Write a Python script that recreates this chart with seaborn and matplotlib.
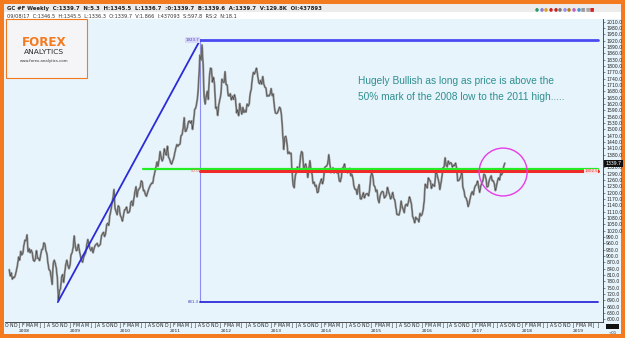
import numpy as np
import pandas as pd
import matplotlib
matplotlib.use("Agg")
import matplotlib.pyplot as plt
from matplotlib.patches import Rectangle, Ellipse
from matplotlib.transforms import blended_transform_factory
import seaborn as sns

# ---------------- data: weekly closes (4 per month) ----------------
gold_2007 = [835, 805, 820, 790, 800, 798, 812, 834]  # Nov-Dec
gold_2008 = [860, 895, 880, 922, 905, 912, 950, 975, 972, 1000, 920, 935,
             915, 928, 915, 880, 875, 885, 925, 890, 888, 878, 905, 930,
             932, 962, 958, 925, 910, 865, 835, 830, 800, 765, 865, 880,
             865, 840, 790, 690, 735, 745, 800, 812, 775, 822, 860, 880]
gold_2009 = [855, 840, 855, 905, 915, 940, 995, 950, 925, 928, 955, 925,
             900, 880, 870, 893, 905, 915, 953, 978, 960, 935, 925, 940,
             915, 935, 950, 955, 960, 945, 950, 955, 995, 1005, 1012, 992,
             1005, 1048, 1055, 1045, 1090, 1115, 1145, 1175, 1215, 1125, 1110, 1095]
gold_2010 = [1138, 1130, 1092, 1083, 1065, 1090, 1118, 1120, 1132, 1104, 1105, 1112,
             1152, 1160, 1138, 1170, 1205, 1228, 1180, 1210, 1218, 1226, 1256, 1250,
             1210, 1210, 1190, 1183, 1200, 1215, 1228, 1238, 1245, 1245, 1275, 1297,
             1320, 1345, 1325, 1355, 1395, 1368, 1350, 1362, 1408, 1385, 1378, 1420]
gold_2011 = [1369, 1360, 1342, 1335, 1350, 1363, 1388, 1410, 1428, 1420, 1427, 1430,
             1470, 1475, 1505, 1555, 1490, 1493, 1510, 1536, 1540, 1530, 1540, 1500,
             1542, 1594, 1601, 1625, 1663, 1744, 1852, 1828, 1900, 1815, 1655, 1620,
             1656, 1680, 1642, 1745, 1790, 1788, 1724, 1746, 1710, 1600, 1605, 1566]
gold_2012 = [1616, 1640, 1665, 1738, 1725, 1722, 1773, 1712, 1710, 1660, 1658, 1669,
             1640, 1657, 1642, 1664, 1643, 1578, 1592, 1565, 1622, 1595, 1572, 1604,
             1580, 1590, 1582, 1620, 1610, 1620, 1670, 1690, 1740, 1770, 1762, 1775,
             1790, 1760, 1724, 1716, 1732, 1714, 1750, 1715, 1700, 1696, 1657, 1660]
gold_2013 = [1658, 1668, 1693, 1660, 1668, 1610, 1578, 1575, 1578, 1592, 1605, 1597,
             1560, 1480, 1405, 1462, 1467, 1438, 1385, 1393, 1384, 1387, 1295, 1234,
             1223, 1280, 1295, 1322, 1311, 1315, 1372, 1395, 1387, 1308, 1326, 1336,
             1310, 1272, 1315, 1351, 1310, 1288, 1244, 1250, 1230, 1235, 1200, 1204]
gold_2014 = [1237, 1250, 1265, 1242, 1262, 1318, 1324, 1326, 1338, 1380, 1336, 1295,
             1303, 1318, 1294, 1300, 1302, 1293, 1294, 1256, 1252, 1274, 1316, 1321,
             1336, 1307, 1310, 1294, 1305, 1315, 1280, 1287, 1268, 1231, 1216, 1216,
             1192, 1222, 1238, 1172, 1169, 1185, 1200, 1175, 1190, 1195, 1195, 1185]
gold_2015 = [1216, 1277, 1293, 1280, 1235, 1228, 1205, 1212, 1167, 1152, 1185, 1199,
             1206, 1203, 1175, 1180, 1190, 1225, 1205, 1190, 1170, 1180, 1201, 1173,
             1165, 1132, 1097, 1095, 1094, 1114, 1160, 1134, 1121, 1105, 1140, 1145,
             1137, 1156, 1180, 1165, 1142, 1088, 1076, 1057, 1084, 1074, 1076, 1061]
gold_2016 = [1102, 1090, 1096, 1117, 1158, 1240, 1230, 1222, 1270, 1260, 1255, 1220,
             1240, 1234, 1230, 1292, 1292, 1273, 1252, 1215, 1243, 1276, 1318, 1322,
             1365, 1330, 1322, 1350, 1335, 1342, 1340, 1321, 1330, 1328, 1340, 1316,
             1256, 1257, 1265, 1276, 1305, 1225, 1210, 1180, 1175, 1160, 1134, 1150]
gold_2017 = [1175, 1196, 1205, 1190, 1221, 1234, 1238, 1255, 1227, 1201, 1230, 1245,
             1255, 1287, 1284, 1267, 1227, 1230, 1256, 1270, 1280, 1256, 1256, 1242,
             1210, 1230, 1255, 1270, 1260, 1290, 1285, 1297, 1325, 1339.7]

# swing points used by the Fibonacci tool
swing_low_t, swing_low = 2008.81, 681.3
swing_high_t, swing_high = 2011.64, 1923.7
fib_mid = (swing_low + swing_high) / 2
green_level = 1312.0
tool_end_t = 2019.55
green_start_t = 2010.50
last_price = 1339.7

years = list(range(2008, 2020))
month_letters = list("JFMAMJJASOND")
ytick_vals = list(range(600, 2011, 30))

title1 = "GC #F Weekly  C:1339.7  N:5.3  H:1345.5  L:1336.7  :0:1339.7  B:1339.6  A:1339.7  V:129.8K  OI:437893"
title2 = "09/08/17  C:1346.5  H:1345.5  L:1336.3  O:1339.7  V:1.866  I:437093  S:597.8  RS:2  N:18.1"
note_lines = ["Hugely Bullish as long as price is above the",
              "50% mark of the 2008 low to the 2011 high....."]

# ---------------- build frame ----------------
rows = []
for yr, lst, start in [(2007, gold_2007, 40), (2008, gold_2008, 0), (2009, gold_2009, 0),
                       (2010, gold_2010, 0), (2011, gold_2011, 0), (2012, gold_2012, 0),
                       (2013, gold_2013, 0), (2014, gold_2014, 0), (2015, gold_2015, 0),
                       (2016, gold_2016, 0), (2017, gold_2017, 0)]:
    for i, v in enumerate(lst):
        rows.append((yr + (start + i + 0.5) / 48.0, v))
df = pd.DataFrame(rows, columns=["t", "price"])

# ---------------- figure ----------------
sns.set_style("white")
plt.rcParams['font.family'] = ['DejaVu Sans']
W, H = 625, 338
fig = plt.figure(figsize=(W / 100, H / 100), dpi=100)
ORANGE = '#f47a1f'
fig.patch.set_facecolor(ORANGE)

def fx(x):
    return x / W

def fy(y):
    return 1 - y / H

BG = '#e7f4fc'
# inner panel
fig.add_artist(Rectangle((fx(4), fy(334)), fx(617), 330 / H, transform=fig.transFigure,
                         facecolor=BG, edgecolor='none', zorder=0))
fig.add_artist(Rectangle((fx(4), fy(12)), fx(617), 8 / H, transform=fig.transFigure,
                         facecolor='#ececec', edgecolor='none', zorder=0))
fig.add_artist(Rectangle((fx(4), fy(19)), fx(617), 7 / H, transform=fig.transFigure,
                         facecolor='white', edgecolor='none', zorder=0))
fig.text(fx(7), fy(8.3), title1, fontsize=3.9, fontweight='bold', color='#222222', va='center')
fig.text(fx(7), fy(15.5), title2, fontsize=3.6, color='#333333', va='center')
# toolbar icons
icon_cols = ['#2a9a6a', '#8a7ad8', '#e0a020', '#cc2020', '#cc2020', '#777777',
             '#9a8ae0', '#b08020', '#c060c0', '#4a90d0', '#999999', '#aaaaaa', '#d02020']
for k, c in enumerate(icon_cols):
    fig.text(fx(537 + k * 4.6), fy(8.3), '■' if k in (10, 11, 12) else '●', fontsize=3.3,
             color=c, ha='center', va='center')

ax = fig.add_axes([fx(5), fy(322), fx(598), 303 / H])
ax.set_facecolor(BG)

sns.lineplot(data=df, x="t", y="price", ax=ax, color='#939393', lw=1.5,
             estimator=None, sort=True, zorder=3)
sns.lineplot(data=df, x="t", y="price", ax=ax, color='#303030', lw=0.3,
             estimator=None, sort=True, zorder=4)

ax.set_xlim(2007.76, 2019.65)
ax.set_ylim(587, 2023)
ax.set_xlabel("")
ax.set_ylabel("")

# Fibonacci / trend tool
blue = '#2b2bd8'
ax.plot([swing_low_t, swing_high_t], [swing_low, swing_high], color=blue, lw=1.3, zorder=5)
ax.plot([swing_high_t, tool_end_t], [swing_high, swing_high], color='#4a4af0', lw=2.0, zorder=5)
ax.plot([swing_high_t, tool_end_t], [swing_low, swing_low], color=blue, lw=1.3, zorder=5)
ax.plot([swing_high_t, swing_high_t], [swing_low, swing_high], color='#8c8cf5', lw=0.8, zorder=2)
ax.plot([green_start_t, tool_end_t], [green_level, green_level], color='#22ee22', lw=1.6, zorder=5)
ax.plot([swing_high_t, tool_end_t], [fib_mid, fib_mid], color='#ee2a2a', lw=2.2, zorder=5)
ax.text(swing_high_t - 0.02, swing_high, f"{swing_high:.1f}", fontsize=2.8, color='#4040c0',
        ha='right', va='center', zorder=6,
        bbox=dict(boxstyle='square,pad=0.15', fc='#d8d8f8', ec='none'))
ax.text(swing_high_t - 0.02, swing_low, f"{swing_low:.1f}", fontsize=2.8, color='#4040c0',
        ha='right', va='center', zorder=6)
ax.text(swing_high_t - 0.02, fib_mid, "50.0", fontsize=2.8, color='#f06060',
        ha='right', va='center', zorder=6)
ax.text(tool_end_t, fib_mid, f"{fib_mid:.1f}", fontsize=2.8, color='#e02020',
        ha='right', va='center', zorder=7,
        bbox=dict(boxstyle='square,pad=0.1', fc='#fbe0e0', ec='none'))

# circle highlight
ax.add_patch(Ellipse((0.833, 0.495), 0.0803, 0.158, transform=ax.transAxes,
                     fill=False, ec='#e83ce8', lw=1.0, zorder=6))

# note text
ax.text(0.591, 0.797, note_lines[0], transform=ax.transAxes, fontsize=7.3,
        color='#2f8f8f', family='Liberation Sans', va='center', ha='left')
ax.text(0.591, 0.741, note_lines[1], transform=ax.transAxes, fontsize=7.3,
        color='#2f8f8f', family='Liberation Sans', va='center', ha='left')

# spines
for s in ['left', 'top']:
    ax.spines[s].set_visible(False)
for s in ['right', 'bottom']:
    ax.spines[s].set_visible(True)
    ax.spines[s].set_color('#333333')
    ax.spines[s].set_linewidth(0.6)

# y axis on the right (label under the current-price box is hidden, as in the reference)
ax.yaxis.tick_right()
ax.set_yticks(ytick_vals)
ax.set_yticklabels(["" if abs(v - last_price) < 15 else f"{v:.1f}" for v in ytick_vals],
                   fontsize=3.3, color='#222222')
ax.tick_params(axis='y', which='major', length=1.5, width=0.4, pad=0.8, color='#333333')

# x axis months / years
month_pos = []
month_lab = []
for yr in range(2007, 2020):
    for m in range(12):
        c = yr + (m + 0.5) / 12
        if 2007.76 < c < 2019.62:
            month_pos.append(c)
            month_lab.append(month_letters[m])
ax.set_xticks(years)
ax.set_xticklabels([])
ax.tick_params(axis='x', which='major', length=5, width=0.4, color='#444444', direction='out')
ax.set_xticks(month_pos, minor=True)
ax.set_xticklabels(month_lab, minor=True, fontsize=3.3, color='#222222')
ax.tick_params(axis='x', which='minor', length=0, pad=0.8)
trans = blended_transform_factory(ax.transData, fig.transFigure)
for yr in years:
    ax.text(yr + 0.04, fy(331), str(yr), transform=trans, fontsize=3.2,
            color='#222222', ha='left', va='center', clip_on=False)

# current price box
ax.text(1.004, (last_price - 587) / (2023 - 587), f"{last_price:.1f}", transform=ax.transAxes,
        fontsize=3.3, color='white', ha='left', va='center', zorder=8, clip_on=False,
        bbox=dict(boxstyle='square,pad=0.25', fc='#111111', ec='none'))

# bottom-right corner marks
fig.add_artist(Rectangle((fx(606), fy(329)), fx(13), 5 / H, transform=fig.transFigure,
                         facecolor='#111111', edgecolor='none', zorder=5))
fig.text(fx(613), fy(332.5), "<01", fontsize=2.8, color='#333333', ha='center', va='center')

# logo
fig.add_artist(Rectangle((fx(5.5), fy(78)), fx(81), 59 / H, transform=fig.transFigure,
                         facecolor='#f5f5f7', edgecolor=ORANGE, lw=0.8, zorder=10))
fig.text(fx(44), fy(42.5), "FOREX", fontsize=8.6, fontweight='bold', color=ORANGE,
         ha='center', va='center', zorder=11)
fig.text(fx(44), fy(51.5), "ANALYTICS", fontsize=5.4, color='#2a2a2a',
         ha='center', va='center', zorder=11)
fig.text(fx(44), fy(61), "www.forex-analytics.com", fontsize=2.8, color='#333333',
         ha='center', va='center', zorder=11)

fig.savefig("out.png", dpi=100, facecolor=fig.get_facecolor())
